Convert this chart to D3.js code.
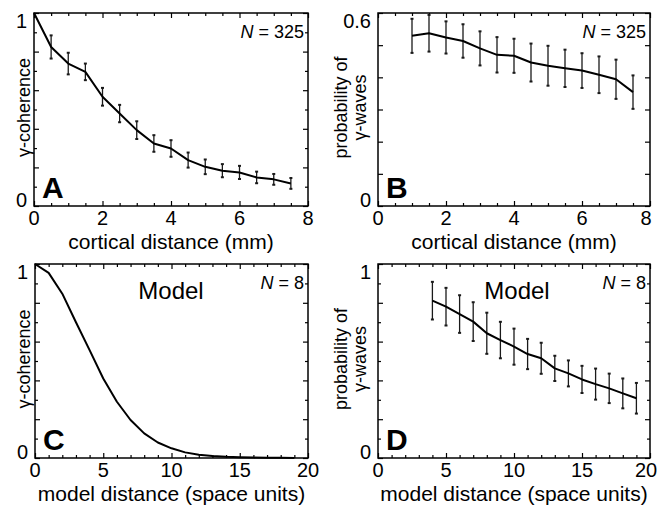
<!DOCTYPE html>
<html><head><meta charset="utf-8">
<script src="https://cdn.jsdelivr.net/npm/d3@7"></script>
<style>
html,body{margin:0;padding:0;background:#fff;}
svg{display:block;font-family:"Liberation Sans",Arial,sans-serif;}
</style></head>
<body><svg id="c" width="659" height="508"></svg>
<script>
// ---- data ----
const xA = [0,0.5,1,1.5,2,2.5,3,3.5,4,4.5,5,5.5,6,6.5,7,7.5];
const yA = [1.0,0.824,0.738,0.695,0.566,0.479,0.393,0.324,0.298,0.238,0.203,0.183,0.174,0.148,0.138,0.117];
const eA = [0,0.06,0.056,0.043,0.046,0.045,0.046,0.043,0.043,0.039,0.038,0.034,0.034,0.03,0.028,0.028];

const xB = [1,1.5,2,2.5,3,3.5,4,4.5,5,5.5,6,6.5,7,7.5];
const yB = [0.529,0.537,0.524,0.513,0.49,0.47,0.467,0.446,0.436,0.428,0.421,0.408,0.394,0.354];
const eB = [0.053,0.057,0.05,0.052,0.053,0.055,0.053,0.059,0.062,0.058,0.054,0.057,0.061,0.052];

const xC = [0,1,2,3,4,5,6,7,8,9,10,11,12,13,14,15,16,17,18,19];
const yC = [1.0,0.954,0.847,0.70,0.556,0.41,0.29,0.196,0.127,0.08,0.05,0.029,0.017,0.01,0.006,0.004,0.002,0.001,0.001,0.0];

const xD = [4,5,6,7,8,9,10,11,12,13,14,15,16,17,18,19];
const yD = [0.811,0.78,0.742,0.703,0.643,0.608,0.574,0.536,0.514,0.462,0.436,0.405,0.381,0.359,0.333,0.308];
const eD = [0.097,0.097,0.097,0.1,0.106,0.094,0.093,0.078,0.08,0.065,0.067,0.07,0.08,0.076,0.077,0.079];

const xTicksMm = [0,2,4,6,8];
const xTicksModel = [0,5,10,15,20];
const yLabelsCoh = [0,1];
const yLabelsProbB = [0,0.6];
const yLabelsProbD = [0,1];

const svg = d3.select("#c");

function panel(o){
  const x = d3.scaleLinear().domain(o.xd).range([o.l,o.r]);
  const y = d3.scaleLinear().domain(o.yd).range([o.b,o.t]);
  const g = svg.append("g");
  const minorX = d3.range(o.xd[0], o.xd[1]+1e-9, o.xMinor);
  const minorY = d3.range(o.yd[0], o.yd[1]+1e-9, o.yMinor);
  const isMajor = (v,step)=> Math.abs(v/step - Math.round(v/step))<1e-6;
  const mk = (axis, tr)=>{
    const a = g.append("g").attr("transform",tr).call(axis);
    a.select(".domain").remove();
    a.selectAll("line").attr("stroke","#000").attr("stroke-width",1.2);
    a.selectAll("text").remove();
  };
  const xMaj = minorX.filter(v=>isMajor(v,o.xMajor));
  const xMin = minorX.filter(v=>!isMajor(v,o.xMajor));
  const yMaj = minorY.filter(v=>isMajor(v,o.yMajor));
  const yMin = minorY.filter(v=>!isMajor(v,o.yMajor));
  mk(d3.axisBottom(x).tickValues(xMaj).tickSize(-5), `translate(0,${o.b})`);
  mk(d3.axisBottom(x).tickValues(xMin).tickSize(-3), `translate(0,${o.b})`);
  mk(d3.axisTop(x).tickValues(xMaj).tickSize(-5), `translate(0,${o.t})`);
  mk(d3.axisTop(x).tickValues(xMin).tickSize(-3), `translate(0,${o.t})`);
  mk(d3.axisLeft(y).tickValues(yMaj).tickSize(-5), `translate(${o.l},0)`);
  mk(d3.axisLeft(y).tickValues(yMin).tickSize(-3), `translate(${o.l},0)`);
  mk(d3.axisRight(y).tickValues(yMaj).tickSize(-5), `translate(${o.r},0)`);
  mk(d3.axisRight(y).tickValues(yMin).tickSize(-3), `translate(${o.r},0)`);
  g.append("rect").attr("x",o.l).attr("y",o.t).attr("width",o.r-o.l).attr("height",o.b-o.t)
    .attr("fill","none").attr("stroke","#000").attr("stroke-width",1.5);

  // x tick labels
  g.selectAll(".xl").data(o.xLabels).join("text")
    .attr("x",d=>Math.min(x(d), 646)).attr("y",o.b+19).attr("text-anchor","middle")
    .attr("font-size",20).text(d=>d);
  // y tick labels
  g.selectAll(".yl").data(o.yLabels).join("text")
    .attr("x",o.l-7).attr("y",d=> d===o.yd[0] ? y(d)+1 : y(d)+15)
    .attr("text-anchor","end").attr("font-size",20).text(d=>d);
  // axis title
  g.append("text").attr("x",(o.l+o.r)/2).attr("y",o.b+43).attr("text-anchor","middle")
    .attr("font-size",21).text(o.xt);
  // y title
  const yt = g.append("text").attr("transform",`translate(${o.ytx},${(o.t+o.b)/2-2}) rotate(-90)`)
    .attr("text-anchor","middle").attr("font-size",18);
  o.yt.forEach((s,i)=> yt.append("tspan").attr("x",0).attr("dy", i===0?0:19).text(s));

  // error bars
  if(o.e){
    const eg = g.append("g").attr("stroke","#1a1a1a").attr("stroke-width",1.3);
    o.xs.forEach((xv,i)=>{
      if(o.e[i]<=0) return;
      const X = x(xv), y1 = y(o.ys[i]-o.e[i]), y2 = y(o.ys[i]+o.e[i]);
      eg.append("line").attr("x1",X).attr("x2",X).attr("y1",y1).attr("y2",y2);
      eg.append("line").attr("x1",X-1.5).attr("x2",X+1.5).attr("y1",y1).attr("y2",y1).attr("stroke-width",2);
      eg.append("line").attr("x1",X-1.5).attr("x2",X+1.5).attr("y1",y2).attr("y2",y2).attr("stroke-width",2);
    });
  }
  // line
  g.append("path").datum(o.xs.map((v,i)=>[v,o.ys[i]]))
    .attr("fill","none").attr("stroke","#000").attr("stroke-width",2).attr("stroke-linejoin","round")
    .attr("d", d3.line().x(d=>x(d[0])).y(d=>y(d[1])));

  // panel letter
  g.append("text").attr("x",o.l+8).attr("y",o.b-8).attr("font-size",30).attr("font-weight","bold").text(o.letter);
  // N label
  const nt = g.append("text").attr("x",o.r-4).attr("y",o.t+25).attr("text-anchor","end").attr("font-size",18);
  nt.append("tspan").attr("font-style","italic").text("N");
  nt.append("tspan").text(" = " + o.n);
  if(o.model){
    g.append("text").attr("x",o.modelX).attr("y",o.t+35).attr("text-anchor","middle").attr("font-size",24).text("Model");
  }
}

panel({l:34,r:308,t:13,b:206,xd:[0,8],yd:[0,1],xMinor:0.5,xMajor:2,yMinor:0.1,yMajor:0.2,
  xLabels:xTicksMm,yLabels:yLabelsCoh,xt:"cortical distance (mm)",yt:["γ-coherence"],ytx:30,
  xs:xA,ys:yA,e:eA,letter:"A",n:"325"});
panel({l:378,r:650,t:13,b:206,xd:[0,8],yd:[0,0.6],xMinor:0.5,xMajor:2,yMinor:0.1,yMajor:0.1,
  xLabels:xTicksMm,yLabels:yLabelsProbB,xt:"cortical distance (mm)",yt:["probability of","γ-waves"],ytx:347,
  xs:xB,ys:yB,e:eB,letter:"B",n:"325"});
panel({l:35,r:308,t:264,b:458,xd:[0,20],yd:[0,1],xMinor:1,xMajor:5,yMinor:0.1,yMajor:0.2,
  xLabels:xTicksModel,yLabels:yLabelsCoh,xt:"model distance (space units)",yt:["γ-coherence"],ytx:30,
  xs:xC,ys:yC,e:null,letter:"C",n:"8",model:true,modelX:171});
panel({l:378,r:650,t:264,b:458,xd:[0,20],yd:[0,1],xMinor:1,xMajor:5,yMinor:0.1,yMajor:0.2,
  xLabels:xTicksModel,yLabels:yLabelsProbD,xt:"model distance (space units)",yt:["probability of","γ-waves"],ytx:347,
  xs:xD,ys:yD,e:eD,letter:"D",n:"8",model:true,modelX:517});
</script>
</body></html>
